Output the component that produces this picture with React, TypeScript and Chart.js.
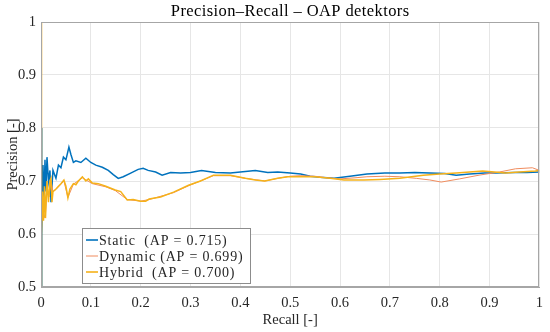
import React, { useEffect, useRef } from "react";
import { Chart, registerables } from "chart.js";

Chart.register(...registerables);

const staticX = [0, 0.001, 0.002, 0.004, 0.006, 0.008, 0.01, 0.012, 0.015, 0.018, 0.02, 0.024, 0.03, 0.035, 0.04, 0.045, 0.05, 0.056, 0.06, 0.065, 0.07, 0.08, 0.09, 0.1, 0.11, 0.123, 0.135, 0.145, 0.155, 0.165, 0.18, 0.195, 0.205, 0.215, 0.23, 0.243, 0.26, 0.28, 0.3, 0.322, 0.35, 0.38, 0.41, 0.43, 0.455, 0.475, 0.5, 0.521, 0.54, 0.56, 0.588, 0.62, 0.654, 0.69, 0.72, 0.75, 0.78, 0.81, 0.833, 0.86, 0.89, 0.912, 0.95, 0.975, 1.0];
const staticY = [0.5, 0.8, 0.6, 0.73, 0.66, 0.74, 0.68, 0.745, 0.7, 0.72, 0.66, 0.72, 0.705, 0.73, 0.725, 0.745, 0.74, 0.764, 0.75, 0.735, 0.738, 0.735, 0.743, 0.735, 0.73, 0.726, 0.72, 0.712, 0.705, 0.708, 0.715, 0.722, 0.724, 0.72, 0.717, 0.711, 0.716, 0.715, 0.716, 0.72, 0.716, 0.715, 0.718, 0.72, 0.716, 0.717, 0.715, 0.713, 0.709, 0.707, 0.705, 0.709, 0.713, 0.715, 0.715, 0.716, 0.715, 0.714, 0.711, 0.713, 0.715, 0.715, 0.716, 0.716, 0.717];

const hybridX = [0, 0, 0.001, 0.002, 0.003, 0.005, 0.007, 0.009, 0.012, 0.015, 0.018, 0.02, 0.022, 0.024, 0.03, 0.035, 0.04, 0.046, 0.05, 0.054, 0.058, 0.065, 0.07, 0.075, 0.083, 0.09, 0.095, 0.103, 0.115, 0.13, 0.149, 0.16, 0.173, 0.185, 0.2, 0.21, 0.217, 0.24, 0.266, 0.296, 0.32, 0.346, 0.38, 0.41, 0.43, 0.449, 0.475, 0.495, 0.549, 0.58, 0.608, 0.648, 0.68, 0.72, 0.767, 0.8, 0.833, 0.86, 0.886, 0.91, 0.932, 0.96, 0.992, 1.0];
const hybridY = [0.5, 1.0, 0.83, 0.6, 0.68, 0.625, 0.69, 0.63, 0.7, 0.66, 0.7, 0.705, 0.66, 0.68, 0.685, 0.69, 0.695, 0.702, 0.69, 0.668, 0.685, 0.695, 0.693, 0.7, 0.708, 0.7, 0.704, 0.696, 0.695, 0.69, 0.683, 0.68, 0.664, 0.665, 0.662, 0.662, 0.666, 0.67, 0.679, 0.692, 0.7, 0.711, 0.711, 0.705, 0.702, 0.7, 0.705, 0.708, 0.708, 0.705, 0.702, 0.702, 0.703, 0.705, 0.711, 0.713, 0.715, 0.717, 0.719, 0.717, 0.715, 0.717, 0.719, 0.72];

const dynamicX = [0, 0, 0.001, 0.002, 0.004, 0.006, 0.009, 0.012, 0.016, 0.02, 0.024, 0.03, 0.04, 0.046, 0.054, 0.065, 0.083, 0.103, 0.13, 0.149, 0.173, 0.2, 0.217, 0.266, 0.296, 0.346, 0.38, 0.41, 0.449, 0.475, 0.5, 0.52, 0.549, 0.575, 0.6, 0.63, 0.654, 0.69, 0.72, 0.753, 0.78, 0.803, 0.84, 0.879, 0.92, 0.952, 0.986, 1.0];
const dynamicY = [0.5, 0.95, 0.8, 0.62, 0.67, 0.63, 0.64, 0.69, 0.67, 0.7, 0.68, 0.684, 0.694, 0.7, 0.669, 0.694, 0.706, 0.695, 0.689, 0.682, 0.665, 0.662, 0.665, 0.678, 0.691, 0.71, 0.71, 0.705, 0.7, 0.705, 0.709, 0.71, 0.709, 0.706, 0.704, 0.706, 0.708, 0.709, 0.708, 0.705, 0.702, 0.698, 0.704, 0.711, 0.717, 0.723, 0.725, 0.72];

const legendLabels = ["Static  (AP = 0.715)", "Dynamic (AP = 0.699)", "Hybrid  (AP = 0.700)"];
const colors = ["#0072BD", "#F08C5E", "#F5B21A"];
const xTicks = [0, 0.1, 0.2, 0.3, 0.4, 0.5, 0.6, 0.7, 0.8, 0.9, 1];
const yTicks = [0.5, 0.6, 0.7, 0.8, 0.9, 1];

const FONT = "'Liberation Serif', serif";

const toPts = (xs: number[], ys: number[]) => xs.map((x, i) => ({ x, y: ys[i] }));

const decorPlugin = {
  id: "decor",
  afterDraw(chart: any) {
    const ctx = chart.ctx;
    const a = chart.chartArea;
    ctx.save();
    ctx.strokeStyle = "#a6a6a6";
    ctx.lineWidth = 1;
    ctx.strokeRect(Math.round(a.left) + 0.5, Math.round(a.top) + 0.5, Math.round(a.right - a.left) - 1, Math.round(a.bottom - a.top) - 1);
    ctx.fillStyle = "#000";
    ctx.font = "16.5px " + FONT;
    ctx.letterSpacing = "0.4px";
    ctx.textAlign = "center";
    ctx.textBaseline = "alphabetic";
    ctx.fillText("Precision\u2013Recall \u2013 OAP detektors", (a.left + a.right) / 2, 16);
    const lx = a.left + 41;
    const ly = a.bottom - 59;
    const lw = 168;
    const lh = 55;
    ctx.fillStyle = "#fff";
    ctx.fillRect(lx, ly, lw, lh);
    ctx.strokeStyle = "#8c8c8c";
    ctx.strokeRect(lx + 0.5, ly + 0.5, lw, lh);
    ctx.font = "14px " + FONT;
    ctx.letterSpacing = "0.8px";
    ctx.textAlign = "left";
    ctx.textBaseline = "middle";
    legendLabels.forEach((t, i) => {
      const yy = ly + 12 + i * 16;
      ctx.strokeStyle = colors[i];
      ctx.lineWidth = i === 1 ? 1 : 1.6;
      ctx.beginPath();
      ctx.moveTo(lx + 4, yy);
      ctx.lineTo(lx + 16, yy);
      ctx.stroke();
      ctx.fillStyle = "#262626";
      ctx.fillText(t, lx + 17, yy + 1);
    });
    ctx.restore();
  },
};

export default function App() {
  const ref = useRef<HTMLCanvasElement>(null);
  useEffect(() => {
    document.body.style.margin = "0";
    const chart = new Chart(ref.current!, {
      type: "line",
      data: {
        datasets: [
          { label: legendLabels[0], data: toPts(staticX, staticY), borderColor: colors[0], borderWidth: 1.5, pointRadius: 0, order: 2 },
          { label: legendLabels[1], data: toPts(dynamicX, dynamicY), borderColor: colors[1], borderWidth: 1, pointRadius: 0, order: 1 },
          { label: legendLabels[2], data: toPts(hybridX, hybridY), borderColor: colors[2], borderWidth: 1.5, pointRadius: 0, order: 0 },
        ],
      },
      options: {
        animation: false,
        responsive: false,
        layout: { padding: { top: 22, right: 6, left: 0, bottom: 0 } },
        plugins: { legend: { display: false }, tooltip: { enabled: false }, title: { display: false } },
        scales: {
          x: {
            type: "linear",
            min: 0,
            max: 1,
            afterBuildTicks: (s: any) => { s.ticks = xTicks.map((v) => ({ value: v })); },
            afterFit: (s: any) => { s.height = 45; },
            grid: { color: "#e6e6e6", tickLength: 0, drawTicks: false },
            border: { color: "#a6a6a6" },
            ticks: { color: "#262626", font: { family: FONT, size: 14.5 }, padding: 7, maxRotation: 0, callback: (v: any) => String(v) },
            title: { display: true, text: "Recall [-]", color: "#262626", font: { family: FONT, size: 14.5 }, padding: { top: 0, bottom: 3 } },
          },
          y: {
            type: "linear",
            min: 0.5,
            max: 1,
            afterBuildTicks: (s: any) => { s.ticks = yTicks.map((v) => ({ value: v })); },
            afterFit: (s: any) => { s.width = 41; },
            grid: { color: "#e6e6e6", tickLength: 0, drawTicks: false },
            border: { color: "#a6a6a6" },
            ticks: { color: "#262626", font: { family: FONT, size: 14.5 }, padding: 5, callback: (v: any) => String(v) },
            title: { display: true, text: "Precision [-]", color: "#262626", font: { family: FONT, size: 14.5 }, padding: { top: 4, bottom: 0 } },
          },
        },
      },
      plugins: [decorPlugin],
    });
    return () => chart.destroy();
  }, []);
  return <canvas ref={ref} width={550} height={332} style={{ display: "block" }} />;
}
